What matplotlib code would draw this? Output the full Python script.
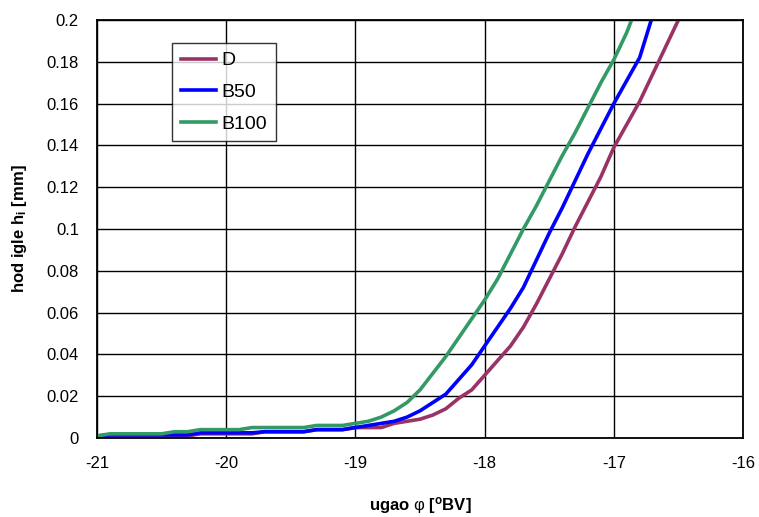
import numpy as np
import matplotlib
matplotlib.use("Agg")
import matplotlib.pyplot as plt
from matplotlib.ticker import FuncFormatter

plt.rcParams['font.family'] = ['Liberation Sans', 'DejaVu Sans']
plt.rcParams['mathtext.fontset'] = 'custom'
plt.rcParams['mathtext.rm'] = 'Liberation Sans'
plt.rcParams['mathtext.bf'] = 'Liberation Sans:bold'
plt.rcParams['mathtext.it'] = 'Liberation Sans:italic'

# Data (angle in deg, needle lift in mm)
x_d = np.round(np.arange(-21.0, -16.35, 0.1), 1)
y_d = [0.0005,
       0.001, 0.001, 0.001, 0.001, 0.001, 0.001, 0.001,
       0.002, 0.002, 0.002, 0.002, 0.002,
       0.003, 0.003, 0.003, 0.003,
       0.004, 0.004, 0.004,
       0.005, 0.005, 0.005, 0.007, 0.008, 0.009, 0.011, 0.014, 0.019, 0.023,
       0.030, 0.037, 0.044, 0.053, 0.064, 0.076, 0.088, 0.101, 0.113, 0.125,
       0.139, 0.150, 0.161, 0.174, 0.187, 0.200, 0.213]
x_b50 = np.round(np.arange(-21.0, -16.65, 0.1), 1)
y_b50 = [0.001,
         0.0015, 0.0015, 0.0015, 0.0015, 0.0015, 0.0015, 0.0015,
         0.0025, 0.0025, 0.0025, 0.0025, 0.0025,
         0.003, 0.003, 0.003, 0.003,
         0.004, 0.004, 0.004,
         0.005, 0.006, 0.007, 0.008, 0.010, 0.013, 0.017, 0.021, 0.028, 0.035,
         0.044, 0.053, 0.062, 0.072, 0.085, 0.098, 0.110, 0.123, 0.136, 0.148,
         0.160, 0.171, 0.182, 0.202]
x_b100 = np.round(np.arange(-21.0, -16.75, 0.1), 1)
y_b100 = [0.001, 0.002, 0.002, 0.002, 0.002, 0.002, 0.003, 0.003, 0.004, 0.004,
          0.004, 0.004, 0.005, 0.005, 0.005, 0.005, 0.005, 0.006, 0.006, 0.006,
          0.007, 0.008, 0.010, 0.013, 0.017, 0.023, 0.031, 0.039, 0.048, 0.057,
          0.066, 0.076, 0.088, 0.100, 0.111, 0.123, 0.135, 0.146, 0.158, 0.170,
          0.181, 0.194, 0.210]

series = [("D", x_d, y_d, "#993366"),
          ("B50", x_b50, y_b50, "#0000FF"),
          ("B100", x_b100, y_b100, "#339966")]

x_ticks = [-21, -20, -19, -18, -17, -16]
y_ticks = [0, 0.02, 0.04, 0.06, 0.08, 0.1, 0.12, 0.14, 0.16, 0.18, 0.2]

fig = plt.figure(figsize=(7.59, 5.17), dpi=100)
ax = fig.add_axes([97/759, 1-438/517, (743-97)/759, (438-20)/517])

for name, xs, ys, c in series:
    ax.plot(xs, ys, color=c, lw=2.6, label=name, solid_joinstyle='round')

ax.set_xlim(-21, -16)
ax.set_ylim(0, 0.2)
ax.set_xticks(x_ticks)
ax.set_yticks(y_ticks)
ax.yaxis.set_major_formatter(FuncFormatter(lambda v, p: ('%g' % round(v, 3))))
ax.xaxis.set_major_formatter(FuncFormatter(lambda v, p: '%d' % v))
ax.grid(True, color='black', lw=1.0)
ax.set_axisbelow(True)
ax.tick_params(length=0, labelsize=12)
ax.tick_params(axis='y', pad=13)
ax.tick_params(axis='x', pad=13)
for s in ax.spines.values():
    s.set_color('black')
    s.set_linewidth(1.3)

ax.set_xlabel(r'ugao $\mathrm{\varphi}$ [$^{\mathbf{o}}$BV]', fontsize=12, fontweight='bold', labelpad=17)
ax.set_ylabel(r'hod igle h$_{\mathbf{i}}$ [mm]', fontsize=12, fontweight='bold', labelpad=13)

leg = ax.legend(loc='upper left', bbox_to_anchor=(75/646, 1-(43-20)/418), fontsize=14,
                frameon=True, fancybox=False, handlelength=1.8, borderpad=0.45,
                labelspacing=0.72, handletextpad=0.3, borderaxespad=0)
leg.get_frame().set_edgecolor('black')
leg.get_frame().set_linewidth(1.0)

fig.savefig('out.png', dpi=100)
